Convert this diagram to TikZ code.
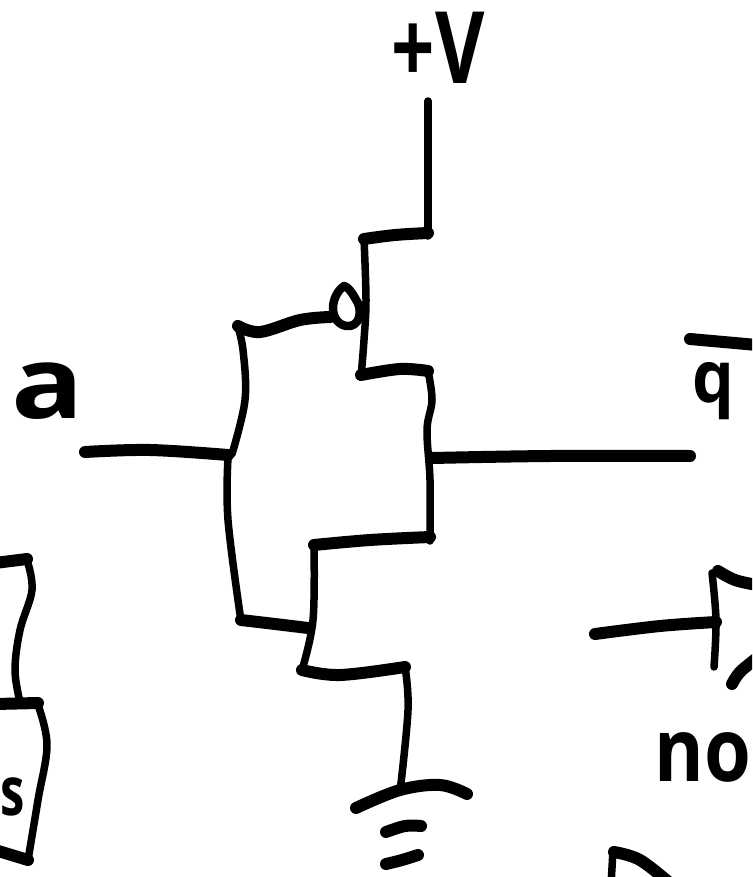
\documentclass[tikz,border=0pt]{standalone}
\usepackage{fontspec}
\setmainfont{Open Sans}[BoldFont={Open Sans Bold}]
\tikzset{
  thinpen/.style={draw=black,line width=7.5pt,line cap=round,line join=round},
  widepen/.style={draw=black,line width=12pt,line cap=round,line join=round},
  hand/.style={inner sep=0pt,outer sep=0pt,text=black,anchor=center,font=\bfseries},
}
\newcommand{\curve}[2]{\draw[#1] plot[smooth,tension=.6] coordinates {#2};}
\begin{document}
\begin{tikzpicture}[x=1pt,y=-1pt]
\useasboundingbox (0,0) rectangle (752,877);
\clip (0,0) rectangle (752,877);
\fill[white] (0,0) rectangle (752,877);
% labels
\node[hand,xscale=.76] (vplus) at (438,48) {\fontsize{100}{100}\selectfont +V};
\node[hand,xscale=1.2] (lbla) at (48,391) {\fontsize{100}{100}\selectfont a};
\node[hand,xscale=.92] (lblq) at (713,391) {\fontsize{72}{72}\selectfont q};
\node[hand,xscale=.86] (lblno) at (703,757) {\fontsize{88}{88}\selectfont no};
\node[hand,xscale=.72] (lbls) at (13,797) {\fontsize{68}{68}\selectfont s};
% supply and upper transistor
\curve{thinpen}{(428,101) (428,170) (428,236)}
\curve{widepen}{(428,233) (395,235) (364,239)}
\curve{thinpen}{(364,239) (366,300) (364,340) (361,377)}
\curve{widepen}{(361,375) (400,369) (428,371)}
\curve{thinpen}{(428,371) (432,400) (427,430) (430,480) (430,541)}
% output
\curve{widepen}{(432,458) (550,456) (690,456)}
% lower transistor
\curve{widepen}{(430,537) (370,540) (314,545)}
\curve{thinpen}{(314,545) (313,620) (302,670)}
\curve{widepen}{(241,620) (275,624) (308,628)}
% input
\curve{widepen}{(85,452) (150,450) (228,455)}
\curve{thinpen}{(228,458) (228,520) (241,621)}
\curve{thinpen}{(232,454) (245,400) (243,350) (237,324)}
\curve{widepen}{(238,326) (260,332) (300,320) (330,317)}
% bubble
\draw[draw=black,line width=8.5pt,line cap=round,line join=round]
  (344,286) .. controls (330,296) and (328,322) .. (346,326)
  .. controls (360,328) and (364,310) .. (355,298)
  .. controls (351,291) and (348,287) .. (344,286);
% ground
\curve{widepen}{(302,670) (340,675) (405,667)}
\curve{thinpen}{(405,667) (408,710) (400,792)}
\curve{widepen}{(356,808) (400,790) (440,785) (467,794)}
\curve{widepen}{(386,832) (405,826) (421,826)}
\curve{widepen}{(386,864) (402,860) (418,855)}
% bar over the q
\draw[draw=black,line width=12pt,line cap=round] (690,339) -- (757,345);
% left fragment
\curve{widepen}{(-5,563) (27,559)}
\curve{thinpen}{(27,560) (32,590) (20,630) (15,670) (20,702)}
\curve{widepen}{(-5,704) (38,703)}
\curve{thinpen}{(38,705) (47,745) (38,800) (28,860)}
\curve{widepen}{(-5,850) (28,860)}
% right fragments
\curve{widepen}{(595,634) (660,626) (716,622)}
\curve{thinpen}{(712,573) (716,620) (714,667)}
\curve{widepen}{(718,571) (735,580) (757,585)}
\curve{widepen}{(732,684) (740,672) (757,658)}
\curve{thinpen}{(613,850) (611,885)}
\curve{widepen}{(614,852) (640,860) (672,885)}
\end{tikzpicture}
\end{document}
